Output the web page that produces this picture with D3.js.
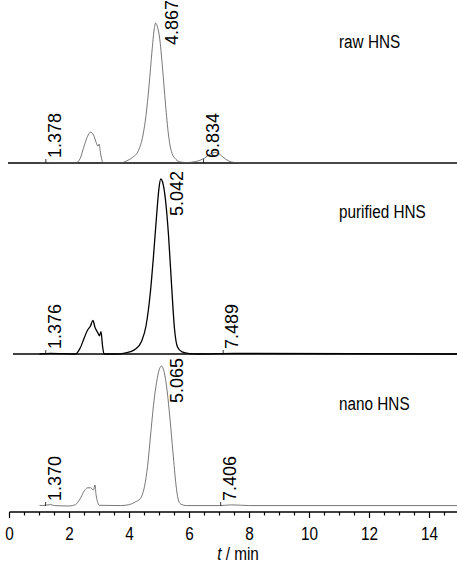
<!DOCTYPE html>
<html>
<meta charset="utf-8">
<script src="https://d3js.org/d3.v7.min.js"></script>
<style>
body { margin: 0; background: #fff; }
text { font-family: "Liberation Sans Narrow", "Arial Narrow", "Liberation Sans", Arial, sans-serif; }
</style>
<body>
<div id="chart"></div>
<script>
var WIDTH = 457, HEIGHT = 566;

// sample names, top to bottom
var sampleNames = ["raw HNS", "purified HNS", "nano HNS"];

// traces: [t (min), relative signal]
var rawHNS = [
  [1.0, 0], [1.378, 0.4], [2.2, 0], [2.35, 3], [2.5, 13], [2.6, 19], [2.7, 22],
  [2.8, 20], [2.9, 14], [2.95, 12], [2.99, 13.5], [3.02, 9], [3.07, 3], [3.12, 0],
  [3.7, 0], [3.9, 1.5], [4.1, 4], [4.3, 9], [4.45, 20], [4.55, 34], [4.65, 55],
  [4.75, 80], [4.82, 95], [4.87, 100], [4.92, 98], [5.0, 90], [5.1, 68], [5.2, 42],
  [5.3, 20], [5.4, 8], [5.55, 2.5], [5.7, 0.7], [5.9, 0.3], [6.2, 1], [6.5, 3.5],
  [6.7, 6.5], [6.83, 7.5], [6.95, 7], [7.1, 4.5], [7.3, 1.5], [7.5, 0.3], [7.8, 0], [15, 0]
];
var purifiedHNS = [
  [1.0, 0], [1.376, 0.4], [2.2, 0], [2.35, 4], [2.5, 12], [2.6, 17], [2.7, 20],
  [2.78, 24], [2.85, 19], [2.95, 15], [3.0, 13], [3.05, 16], [3.1, 6], [3.15, 0],
  [3.55, 0], [3.8, 0.5], [4.0, 1.5], [4.2, 3.5], [4.4, 9], [4.55, 20], [4.7, 45],
  [4.8, 70], [4.9, 98], [4.98, 118], [5.04, 125], [5.1, 123], [5.2, 110], [5.3, 85],
  [5.4, 50], [5.5, 18], [5.6, 5], [5.75, 1.5], [6.0, 0.3], [6.3, 0], [7.489, 0.5], [15, 0]
];
var nanoHNS = [
  [1.0, 0.5], [1.1, 0.3], [1.37, 1], [1.5, 0.3], [2.0, 0], [2.2, 1], [2.35, 5],
  [2.5, 11], [2.6, 13], [2.7, 13], [2.8, 11.5], [2.85, 15], [2.88, 9], [2.95, 2],
  [3.0, 0.5], [3.7, 0.3], [4.0, 1], [4.2, 3], [4.35, 5], [4.5, 14], [4.6, 28],
  [4.7, 50], [4.8, 72], [4.9, 88], [5.0, 98], [5.07, 100], [5.15, 96], [5.25, 83],
  [5.35, 62], [5.45, 38], [5.55, 15], [5.62, 5], [5.7, 1.5], [5.9, 0.3], [7.0, 0.3],
  [7.406, 0.8], [8.0, 0.3], [15, 0.3]
];

// retention times printed on each trace
var rawPeaks = [1.378, 4.867, 6.834];
var purifiedPeaks = [1.376, 5.042, 7.489];
var nanoPeaks = [1.370, 5.065, 7.406];

var xTicks = [0, 2, 4, 6, 8, 10, 12, 14];
var xMinorTicks = d3.range(0, 15.01, 0.5);

var svg = d3.select("#chart").append("svg")
    .attr("width", WIDTH)
    .attr("height", HEIGHT);

var x = d3.scaleLinear().domain([0, 15]).range([9.5, 459.5]);

// squeeze text horizontally, the original uses a narrow face
function narrow(sel, k) {
  sel.each(function () {
    var w = this.getComputedTextLength();
    d3.select(this).attr("textLength", w * k).attr("lengthAdjust", "spacingAndGlyphs");
  });
}

var panels = [
  {name: sampleNames[0], data: rawHNS, peaks: rawPeaks, top: 0, base: 163, nameY: 48,
   stroke: "#555", width: 0.8, frameX0: 8},
  {name: sampleNames[1], data: purifiedHNS, peaks: purifiedPeaks, top: 171, base: 354, nameY: 218,
   stroke: "#000", width: 1.3, frameX0: 13},
  {name: sampleNames[2], data: nanoHNS, peaks: nanoPeaks, top: 358, base: 506, nameY: 410,
   stroke: "#555", width: 0.8, frameX0: null}
];

function valueAt(data, t) {
  var best = data[0];
  data.forEach(function (d) { if (Math.abs(d[0] - t) < Math.abs(best[0] - t)) best = d; });
  return best[1];
}

panels.forEach(function (p) {
  var y = d3.scaleLinear().domain([0, 100]).range([p.base, p.base - 140]);
  var g = svg.append("g");

  // panel separator line
  if (p.frameX0 !== null) {
    g.append("line")
      .attr("x1", p.frameX0).attr("x2", WIDTH)
      .attr("y1", p.base).attr("y2", p.base)
      .attr("stroke", "#000").attr("stroke-width", 1.3);
  }

  var line = d3.line()
      .x(function (d) { return x(d[0]); })
      .y(function (d) { return y(d[1]); })
      .curve(d3.curveMonotoneX);

  g.append("path")
    .datum(p.data)
    .attr("d", line)
    .attr("fill", "none")
    .attr("stroke", p.stroke)
    .attr("stroke-width", p.width);

  var maxV = d3.max(p.peaks, function (t) { return valueAt(p.data, t); });

  p.peaks.forEach(function (t) {
    var main = valueAt(p.data, t) === maxV;
    var off = main ? 22 : (t < 3 ? 10 : 4);
    var lx = x(t) + off;
    var ly = main ? p.top : p.base - 5;
    g.append("text")
      .attr("transform", "translate(" + lx + "," + ly + ") rotate(-90)")
      .attr("text-anchor", main ? "end" : "start")
      .style("font-size", "18px")
      .attr("fill", "#000")
      .text(d3.format(".3f")(t));
    if (!main) {
      g.append("line")
        .attr("x1", lx - 15).attr("x2", lx - 15)
        .attr("y1", p.base).attr("y2", p.base - 4)
        .attr("stroke", "#000").attr("stroke-width", 0.8);
    }
  });

  g.append("text")
    .attr("x", 339).attr("y", p.nameY)
    .style("font-size", "18px")
    .text(p.name)
    .call(narrow, 0.85);
});

// x axis
var axisY = 512;
var ax = svg.append("g");
ax.append("line")
  .attr("x1", x(0)).attr("x2", WIDTH)
  .attr("y1", axisY).attr("y2", axisY)
  .attr("stroke", "#000").attr("stroke-width", 1.3);

ax.selectAll(".minor")
  .data(xMinorTicks)
  .enter().append("line")
  .attr("x1", function (d) { return x(d); })
  .attr("x2", function (d) { return x(d); })
  .attr("y1", axisY)
  .attr("y2", function (d) { return axisY + (d % 2 === 0 ? 6 : 3.5); })
  .attr("stroke", "#000").attr("stroke-width", 1.2);

ax.selectAll(".lab")
  .data(xTicks)
  .enter().append("text")
  .attr("x", function (d) { return x(d); })
  .attr("y", 540)
  .attr("text-anchor", "middle")
  .style("font-size", "18px")
  .text(function (d) { return d; })
  .call(narrow, 0.85);

var title = svg.append("text")
  .attr("x", 238).attr("y", 560)
  .attr("text-anchor", "middle")
  .style("font-size", "18px");
title.append("tspan").style("font-style", "italic").text("t");
title.append("tspan").text(" / min");
title.call(narrow, 0.85);
</script>
</body>
</html>
